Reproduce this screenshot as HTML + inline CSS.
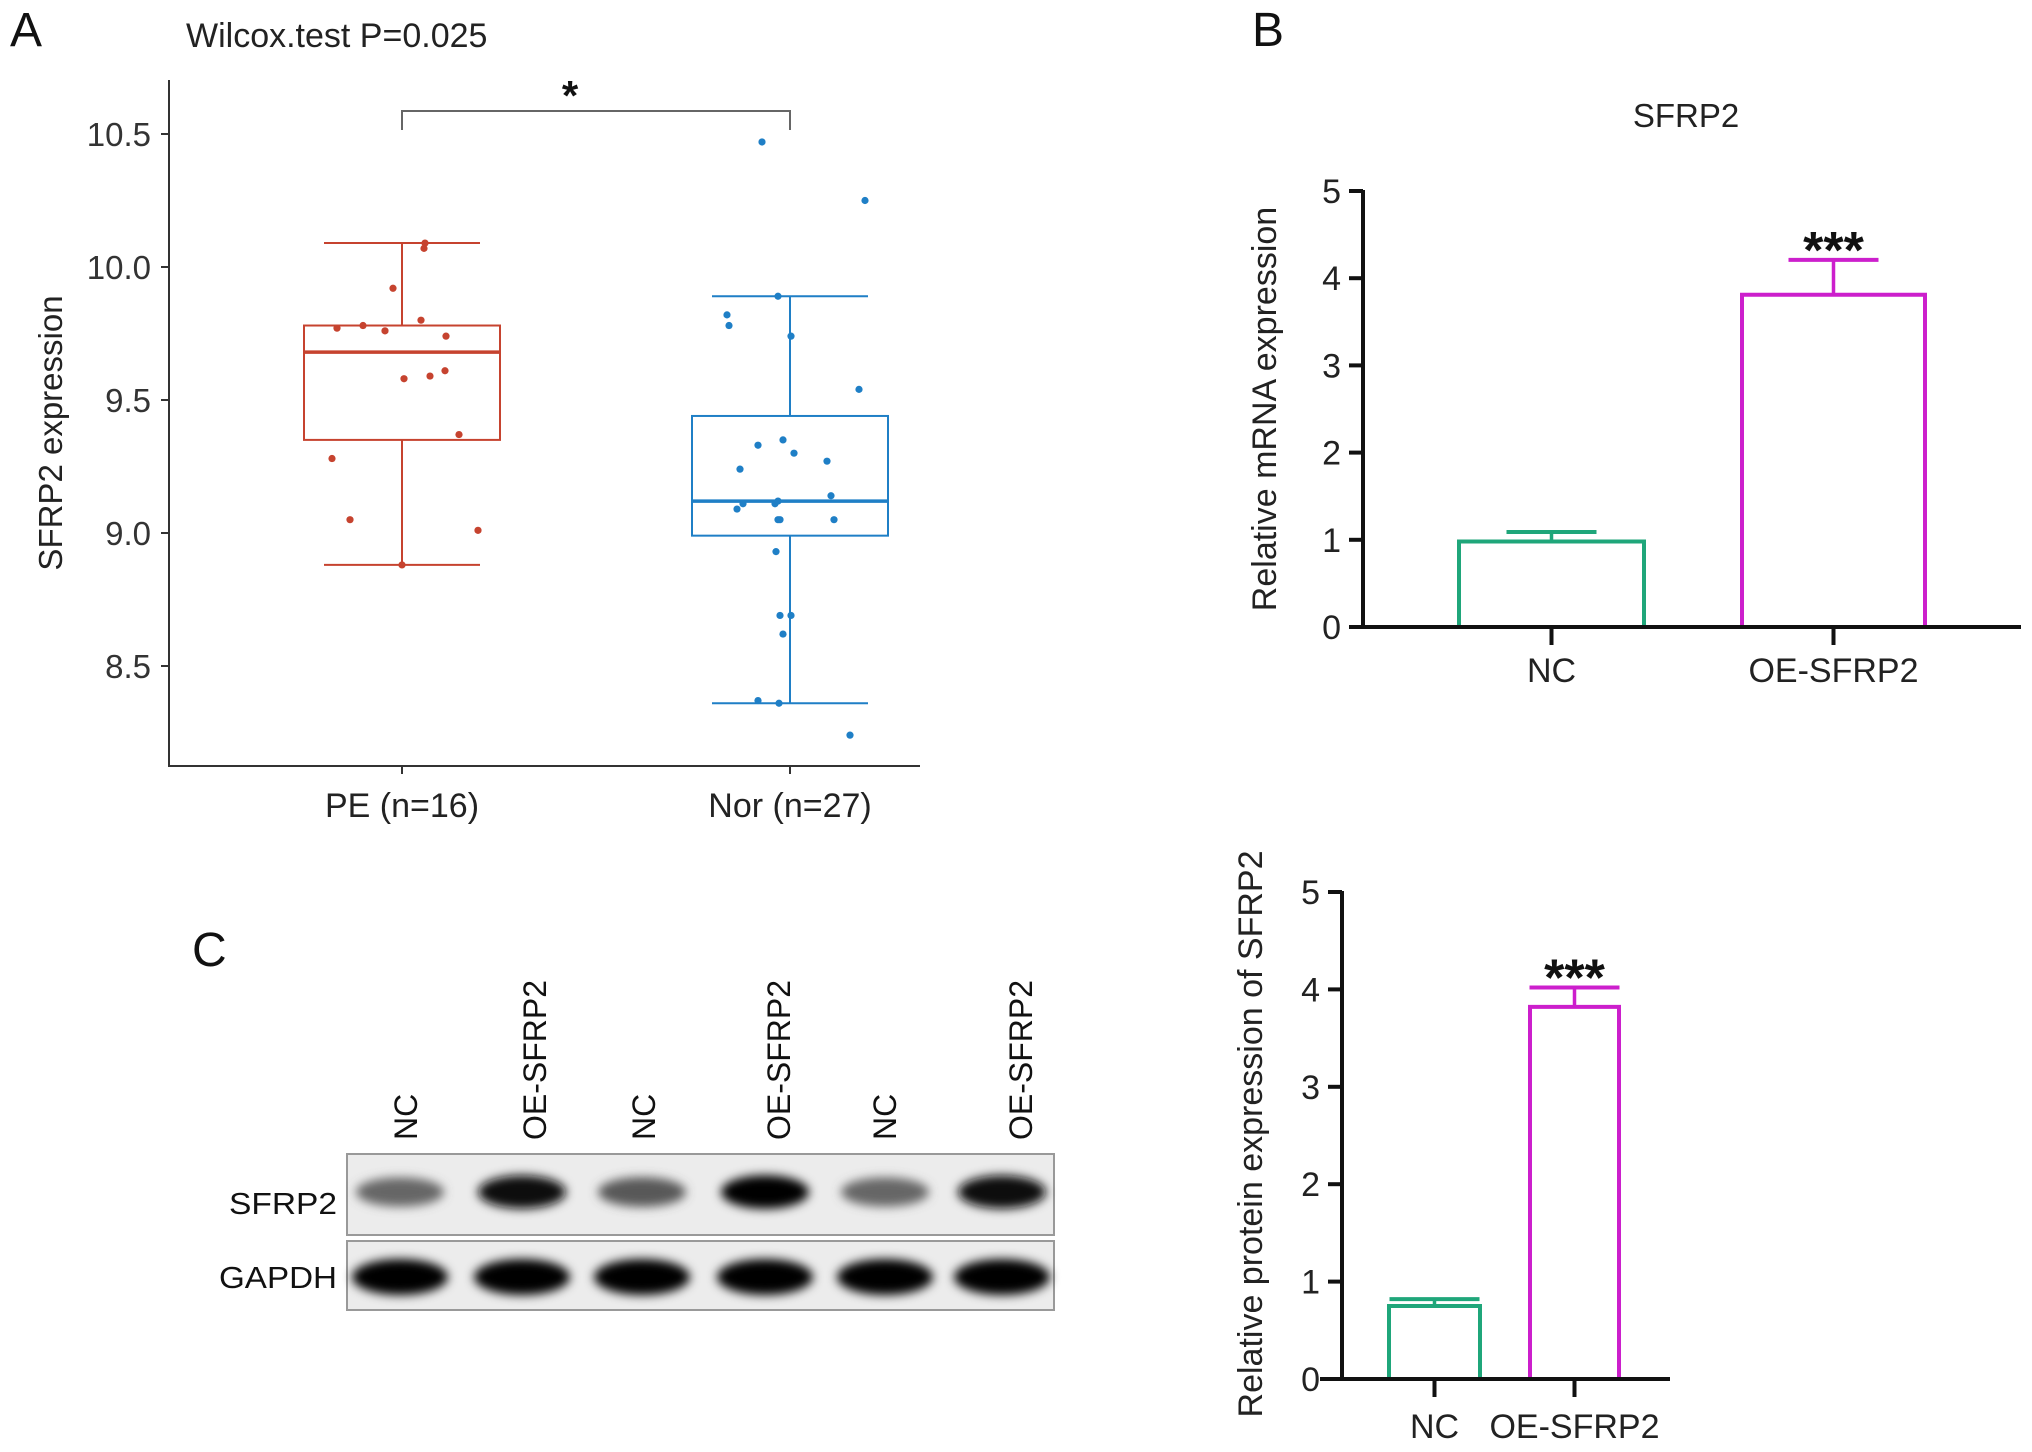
<!DOCTYPE html>
<html><head><meta charset="utf-8">
<style>
html,body{margin:0;padding:0;background:#fff;}
svg{display:block;font-family:"Liberation Sans",Arial,sans-serif;}
</style></head>
<body>
<svg id="fig" width="2032" height="1452" viewBox="0 0 2032 1452" xmlns="http://www.w3.org/2000/svg">
<defs>
<filter id="blur" x="-30%" y="-80%" width="160%" height="260%"><feGaussianBlur stdDeviation="5"/></filter>
</defs>
<g id="panelA"></g>
<g id="panelB"></g>
<g id="blot"></g>
<g id="panelC"></g>
</svg>
<script>
// ---------- Panel A data ----------
const groupsA = ["PE (n=16)", "Nor (n=27)"];
const peValues = [9.77,9.78,9.76,9.80,9.74,9.92,10.07,10.09,9.58,9.59,9.61,9.37,9.28,9.05,9.01,8.88];
const peJitter = [-65,-39,-17,19,44,-9,22,23,2,28,43,57,-70,-52,76,0];
const norValues = [10.47,10.25,9.89,9.82,9.78,9.74,9.54,9.33,9.35,9.30,9.27,9.24,9.11,9.09,9.11,9.12,9.14,9.05,9.05,9.05,8.93,8.69,8.69,8.62,8.37,8.36,8.24];
const norJitter = [-28,75,-12,-63,-61,1,69,-32,-7,4,37,-50,-47,-53,-15,-12,41,-12,-10,44,-14,-10,1,-7,-32,-11,60];
const peBox = [8.88, 9.35, 9.68, 9.78, 10.09];
const norBox = [8.36, 8.99, 9.12, 9.44, 9.89];
const ticksA = [8.5, 9.0, 9.5, 10.0, 10.5];
// ---------- Panel B data ----------
const groupsB = ["NC", "OE-SFRP2"];
const mrnaMean = [0.98, 3.81];
const mrnaErr = [0.11, 0.40];
const ticksB = [0,1,2,3,4,5];
// ---------- Panel C data ----------
const lanes = ["NC","OE-SFRP2","NC","OE-SFRP2","NC","OE-SFRP2"];
const sfrp2Intensity = [0.6,0.95,0.65,0.98,0.6,0.95];
const gapdhIntensity = [1,1,1,1,1,1];
const protMean = [0.75, 3.82];
const protErr = [0.07, 0.20];

const NS="http://www.w3.org/2000/svg";
function mk(parent, tag, attrs, name, text){
  const e=document.createElementNS(NS,tag);
  for(const k in attrs) e.setAttribute(k,attrs[k]);
  
  
  if(text!==undefined) e.textContent=text;
  parent.appendChild(e); return e;
}

// ===== Panel A =====
(function(){
  const g=document.getElementById('panelA');
  const yA = v => 533 - (v-9)*266;
  const xA = i => [402,790][i];
  mk(g,'text',{x:10,y:46,'font-size':48,fill:'#111'},'panel-a-label','A');
  mk(g,'text',{x:186,y:47,'font-size':34,fill:'#222'},'test-title','Wilcox.test P=0.025');
  mk(g,'line',{x1:169,y1:80,x2:169,y2:766,stroke:'#333','stroke-width':2},'y-axis');
  mk(g,'line',{x1:168,y1:766,x2:920,y2:766,stroke:'#333','stroke-width':2},'x-axis');
  ticksA.forEach(t=>{
    mk(g,'line',{x1:161,y1:yA(t),x2:169,y2:yA(t),stroke:'#333','stroke-width':2},'y-tick');
    mk(g,'text',{x:151,y:yA(t)+12,'font-size':33,'text-anchor':'end',fill:'#333'},'y-tick-label',t.toFixed(1));
  });
  mk(g,'text',{x:0,y:0,'font-size':33,'text-anchor':'middle',fill:'#222',transform:'translate(62,433) rotate(-90)'},'y-axis-title','SFRP2 expression');
  groupsA.forEach((n,i)=>{
    mk(g,'line',{x1:xA(i),y1:766,x2:xA(i),y2:774,stroke:'#333','stroke-width':2},'x-tick');
    mk(g,'text',{x:xA(i),y:817,'font-size':34,'text-anchor':'middle',fill:'#222'},'x-tick-label',n);
  });
  const boxes=[peBox,norBox], cols=['#c6432f','#1f7fc6'], vals=[peValues,norValues], jit=[peJitter,norJitter];
  boxes.forEach((b,i)=>{
    const cx=xA(i), c=cols[i], hw=98, cw=78;
    mk(g,'line',{x1:cx,y1:yA(b[0]),x2:cx,y2:yA(b[1]),stroke:c,'stroke-width':2},'whisker-lower');
    mk(g,'line',{x1:cx,y1:yA(b[3]),x2:cx,y2:yA(b[4]),stroke:c,'stroke-width':2},'whisker-upper');
    mk(g,'line',{x1:cx-cw,y1:yA(b[0]),x2:cx+cw,y2:yA(b[0]),stroke:c,'stroke-width':2},'whisker-cap-lower');
    mk(g,'line',{x1:cx-cw,y1:yA(b[4]),x2:cx+cw,y2:yA(b[4]),stroke:c,'stroke-width':2},'whisker-cap-upper');
    mk(g,'rect',{x:cx-hw,y:yA(b[3]),width:2*hw,height:yA(b[1])-yA(b[3]),fill:'none',stroke:c,'stroke-width':2},'iqr-box');
    mk(g,'line',{x1:cx-hw,y1:yA(b[2]),x2:cx+hw,y2:yA(b[2]),stroke:c,'stroke-width':3.5},'median-line');
    vals[i].forEach((v,j)=>{
      mk(g,'circle',{cx:cx+jit[i][j],cy:yA(v),r:3.6,fill:c},'data-point');
    });
  });
  mk(g,'path',{d:'M402,130 V111 H790 V130',fill:'none',stroke:'#666','stroke-width':2},'significance-bracket');
  mk(g,'text',{x:570,y:110,'font-size':42,'font-weight':'bold','text-anchor':'middle',fill:'#111'},'significance-star','*');
})();

// ===== Bar chart helper =====
function barChart(g, o, means, errs, labels, prefix){
  const y = v => o.y0 - v*(o.y0-o.y5)/5;
  mk(g,'line',{x1:o.ax,y1:o.y5-1,x2:o.ax,y2:o.y0+2,stroke:'#111','stroke-width':4},prefix+'-y-axis');
  mk(g,'line',{x1:o.xs,y1:o.y0,x2:o.xe,y2:o.y0,stroke:'#111','stroke-width':4},prefix+'-x-axis');
  ticksB.forEach(t=>{
    mk(g,'line',{x1:o.ax-14,y1:y(t),x2:o.ax,y2:y(t),stroke:'#111','stroke-width':4},prefix+'-y-tick');
    mk(g,'text',{x:o.ax-22,y:y(t)+12,'font-size':34,'text-anchor':'end',fill:'#222'},prefix+'-y-tick-label',String(t));
  });
  const cols=['#1fa67a','#cc1fcc'];
  means.forEach((m,i)=>{
    const x1=o.bars[i][0], x2=o.bars[i][1], cx=(x1+x2)/2, c=cols[i];
    mk(g,'line',{x1:cx,y1:o.y0,x2:cx,y2:o.y0+18,stroke:'#111','stroke-width':4},prefix+'-x-tick');
    mk(g,'line',{x1:cx,y1:y(m),x2:cx,y2:y(m+errs[i]),stroke:c,'stroke-width':3.5},prefix+'-error-bar');
    mk(g,'line',{x1:cx-o.cap,y1:y(m+errs[i]),x2:cx+o.cap,y2:y(m+errs[i]),stroke:c,'stroke-width':4},prefix+'-error-cap');
    mk(g,'path',{d:`M${x1},${o.y0-2} V${y(m)} H${x2} V${o.y0-2}`,fill:'none',stroke:c,'stroke-width':4},prefix+'-bar-'+i);
    mk(g,'text',{x:cx,y:o.ly,'font-size':34,'text-anchor':'middle',fill:'#222'},prefix+'-x-tick-label',labels[i]);
  });
  const oi=1, ocx=(o.bars[1][0]+o.bars[1][1])/2;
  mk(g,'text',{x:ocx,y:y(means[oi]+errs[oi])+8,'font-size':52,'font-weight':'bold','text-anchor':'middle',fill:'#111'},prefix+'-significance','***');
}

// ===== Panel B =====
(function(){
  const g=document.getElementById('panelB');
  mk(g,'text',{x:1252,y:46,'font-size':48,fill:'#111'},'panel-b-label','B');
  mk(g,'text',{x:1686,y:127,'font-size':33,'text-anchor':'middle',fill:'#222'},'chart-title','SFRP2');
  mk(g,'text',{x:0,y:0,'font-size':34,'text-anchor':'middle',fill:'#222',transform:'translate(1276,409) rotate(-90)'},'y-axis-title','Relative mRNA expression');
  barChart(g,{ax:1363,y0:627,y5:191,xs:1352,xe:2021,bars:[[1459,1644],[1742,1925]],cap:45,ly:682},mrnaMean,mrnaErr,groupsB,'mrna');
})();

// ===== Western blot =====
(function(){
  const g=document.getElementById('blot');
  mk(g,'text',{x:192,y:966,'font-size':48,fill:'#111'},'panel-c-label','C');
  const lx=[405,534,643,778,884,1020];
  const bx=[400,522,642,765,885,1002];
  lanes.forEach((n,i)=>{
    mk(g,'text',{x:0,y:0,'font-size':32,fill:'#111',transform:`translate(${lx[i]+12},1140) rotate(-90)`},'lane-label',n);
  });
  mk(g,'rect',{x:347,y:1154,width:707,height:81,fill:'#ececec',stroke:'#999','stroke-width':2},'sfrp2-strip');
  mk(g,'rect',{x:347,y:1241,width:707,height:69,fill:'#ececec',stroke:'#999','stroke-width':2},'gapdh-strip');
  sfrp2Intensity.forEach((v,i)=>{
    const k=Math.round(255*(1-v));
    mk(g,'ellipse',{cx:bx[i],cy:1192,rx:44,ry:11+6*v,fill:`rgb(${k},${k},${k})`,filter:'url(#blur)'},'sfrp2-band');
  });
  gapdhIntensity.forEach((v,i)=>{
    const k=Math.round(255*(1-v));
    mk(g,'ellipse',{cx:bx[i],cy:1277,rx:48,ry:18,fill:`rgb(${k},${k},${k})`,filter:'url(#blur)'},'gapdh-band');
  });
  mk(g,'text',{x:337,y:1214,'font-size':31,'text-anchor':'end',fill:'#111',textLength:108,lengthAdjust:'spacingAndGlyphs'},'sfrp2-row-label','SFRP2');
  mk(g,'text',{x:337,y:1288,'font-size':31,'text-anchor':'end',fill:'#111',textLength:118,lengthAdjust:'spacingAndGlyphs'},'gapdh-row-label','GAPDH');
})();

// ===== Panel C bar chart =====
(function(){
  const g=document.getElementById('panelC');
  mk(g,'text',{x:0,y:0,'font-size':34,'text-anchor':'middle',fill:'#222',transform:'translate(1262,1134) rotate(-90)'},'y-axis-title','Relative protein expression of SFRP2');
  barChart(g,{ax:1342,y0:1379,y5:892,xs:1320,xe:1670,bars:[[1389,1480],[1530,1619]],cap:45,ly:1438},protMean,protErr,groupsB,'protein');
})();
</script>
</body></html>
